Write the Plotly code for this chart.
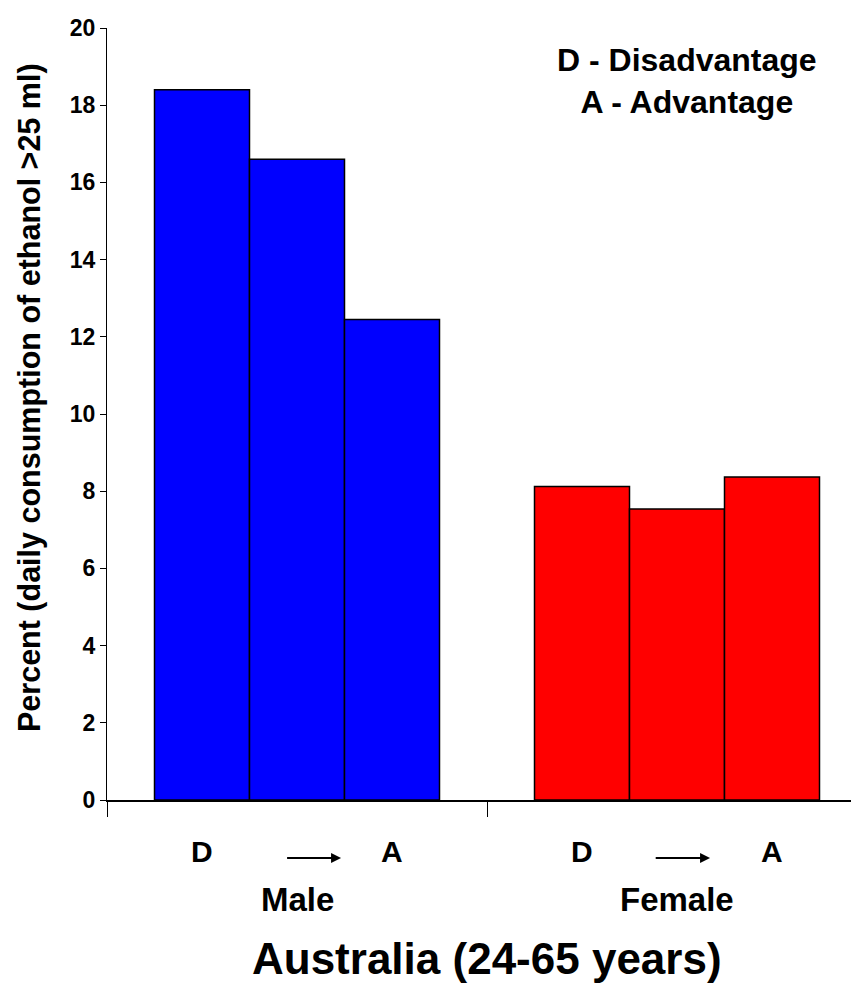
import plotly.graph_objects as go

# Data
groups = ['Male', 'Female']
d_level = [18.4, 8.12]      # D - most disadvantaged
mid_level = [16.6, 7.54]    # middle
a_level = [12.45, 8.37]     # A - most advantaged
group_colors = ['#0000FF', '#FF0000']

FONT = 'Liberation Sans, Arial, sans-serif'
NARROW = 'Liberation Sans Narrow, Arial Narrow, Liberation Sans, sans-serif'

# page body has an 8px margin, so the figure is offset by 8px
W, H = 859, 991
L, T, B = 99, 20, 199
plot_w = W - L
plot_h = H - T - B


def px_y(y_win):
    # window pixel row -> paper y
    return (H - B - (y_win - 8)) / plot_h


def px_x(x_win):
    return (x_win - 8 - L) / plot_w


fig = go.Figure()
for vals in [d_level, mid_level, a_level]:
    fig.add_trace(go.Bar(x=groups, y=vals,
                         marker=dict(color=group_colors, line=dict(color='black', width=1.5)),
                         showlegend=False, hoverinfo='y'))

annotations = []
# D -> A labels under each group
arrow_span = {0: (-0.03, 0.116), 1: (-0.06, 0.087)}
for i, g in enumerate(groups):
    for dx, lab in [(-0.25, 'D'), (0.25, 'A')]:
        annotations.append(dict(x=i + dx, y=px_y(851), xref='x', yref='paper', text='<b>%s</b>' % lab,
                                showarrow=False, xanchor='center', yanchor='middle',
                                font=dict(size=30, family=FONT, color='black')))
    x0, x1 = arrow_span[i]
    annotations.append(dict(x=i + x1, y=px_y(858), xref='x', yref='paper', text='',
                            showarrow=True, ax=i + x0, ay=0, axref='x', ayref='pixel',
                            arrowhead=2, arrowsize=1, arrowwidth=2, arrowcolor='black'))
    annotations.append(dict(x=i, y=px_y(899), xref='x', yref='paper', text='<b>%s</b>' % g,
                            showarrow=False, xanchor='center', yanchor='middle',
                            font=dict(size=33, family=FONT, color='black')))

annotations.append(dict(x=0.5, y=px_y(958), xref='x', yref='paper',
                        text='<b>Australia (24-65 years)</b>', showarrow=False,
                        xanchor='center', yanchor='middle',
                        font=dict(size=44, family=FONT, color='black')))
annotations.append(dict(x=px_x(687), y=px_y(81), xref='paper', yref='paper',
                        text='<b>D - Disadvantage</b><br><b>A - Advantage</b>', showarrow=False,
                        xanchor='center', yanchor='middle',
                        font=dict(size=32, family=FONT, color='black')))
annotations.append(dict(x=px_x(29), y=px_y(398), xref='paper', yref='paper', textangle=-90,
                        text='<b>Percent (daily consumption of ethanol >25 ml)</b>',
                        showarrow=False, xanchor='center', yanchor='middle',
                        font=dict(size=30.5, family=FONT, color='black')))

fig.update_layout(
    width=W, height=H,
    margin=dict(l=L, r=0, t=T, b=B),
    plot_bgcolor='white', paper_bgcolor='white',
    barmode='group', bargap=0.25, bargroupgap=0,
    annotations=annotations,
    xaxis=dict(range=[-0.5, 1.5], showline=True, linecolor='black', linewidth=2,
               ticks='outside', tickson='boundaries', ticklen=15, tickcolor='black',
               tickwidth=1, showticklabels=False, showgrid=False, zeroline=False),
    yaxis=dict(range=[0, 20], dtick=2, showline=True, linecolor='black', linewidth=1,
               ticks='outside', ticklen=6, tickcolor='black', showgrid=False, zeroline=False,
               tickfont=dict(size=23, family=NARROW, color='black'),
               tickprefix='<b>', ticksuffix='</b>'),
)

fig.write_html('out.html')
